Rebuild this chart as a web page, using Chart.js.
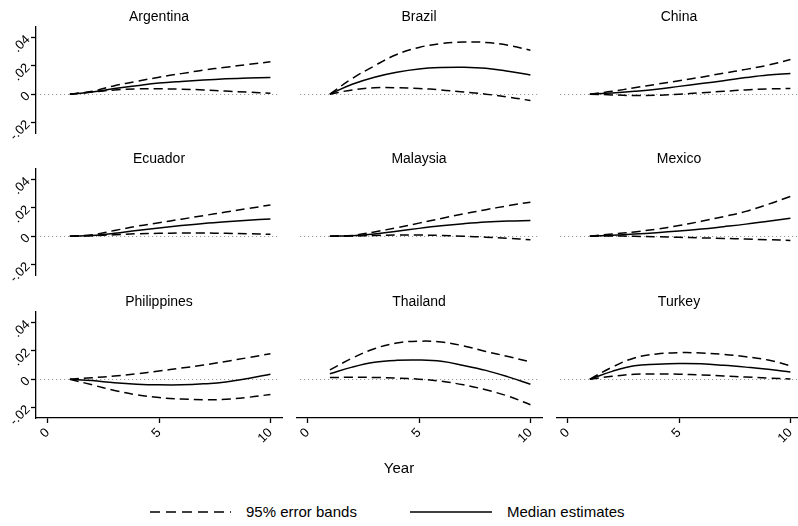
<!DOCTYPE html>
<html>
<head>
<meta charset="utf-8">
<script src="https://cdn.jsdelivr.net/npm/chart.js@4"></script>
<style>
body { margin: 0; background: #fff; width: 798px; height: 526px; overflow: hidden; position: relative;
       font-family: "Liberation Sans", Arial, sans-serif; color: #000; }
canvas { position: absolute; }
#year { position: absolute; left: 0; width: 798px; top: 459px; text-align: center; font-size: 15px; line-height: 18px; }
.leg { position: absolute; top: 503px; font-size: 15px; line-height: 18px; white-space: nowrap; }
#legsvg { position: absolute; left: 0; top: 500px; }
</style>
</head>
<body>
<div id="panels"></div>
<div id="year">Year</div>
<svg id="legsvg" width="798" height="24">
	<line x1="150" y1="12" x2="231" y2="12" stroke="#000" stroke-width="1.4" stroke-dasharray="10 6"></line>
	<line x1="410" y1="12" x2="492" y2="12" stroke="#000" stroke-width="1.4"></line>
</svg>
<span class="leg" style="left:246px">95% error bands</span>
<span class="leg" style="left:507px">Median estimates</span>

<script>
/* horizonte en años */
const years = [1, 2, 3, 4, 5, 6, 7, 8, 9, 10];
const xTicks = [0, 5, 10];
const xTickLabels = ['0', '5', '10'];
const yTicks = [-0.02, 0, 0.02, 0.04];
const yTickLabels = ['-.02', '0', '.02', '.04'];
const zeroValue = 0;

/* mediana, banda superior e inferior por país */
const argentinaMed = [0, 0.0015, 0.004, 0.006, 0.0078, 0.009, 0.010, 0.0108, 0.0114, 0.0118];
const argentinaUp  = [0, 0.002, 0.006, 0.009, 0.012, 0.0145, 0.017, 0.019, 0.021, 0.0228];
const argentinaLo  = [0, 0.0015, 0.003, 0.0037, 0.0038, 0.0035, 0.003, 0.0022, 0.0014, 0.0007];

const brazilMed = [0, 0.007, 0.012, 0.0155, 0.0178, 0.0188, 0.019, 0.0183, 0.0162, 0.0135];
const brazilUp  = [0, 0.011, 0.020, 0.028, 0.033, 0.0357, 0.0368, 0.0365, 0.0345, 0.031];
const brazilLo  = [0, 0.003, 0.0045, 0.0045, 0.004, 0.003, 0.0015, 0, -0.002, -0.0045];

const chinaMed = [0, 0.0008, 0.002, 0.0035, 0.0055, 0.0075, 0.0095, 0.0117, 0.0135, 0.0145];
const chinaUp  = [0, 0.002, 0.0045, 0.007, 0.0095, 0.012, 0.0148, 0.0175, 0.0205, 0.0245];
const chinaLo  = [0, -0.0005, -0.001, -0.0008, 0, 0.001, 0.002, 0.003, 0.0037, 0.004];

const ecuadorMed = [0, 0.0005, 0.002, 0.004, 0.0058, 0.0075, 0.009, 0.0102, 0.0112, 0.0122];
const ecuadorUp  = [0, 0.001, 0.004, 0.007, 0.0095, 0.012, 0.0145, 0.017, 0.0195, 0.022];
const ecuadorLo  = [0, 0.0003, 0.001, 0.0017, 0.002, 0.0022, 0.0022, 0.002, 0.0017, 0.0013];

const malaysiaMed = [0, 0.0003, 0.0015, 0.0035, 0.0055, 0.0073, 0.0088, 0.0100, 0.0107, 0.011];
const malaysiaUp  = [0, 0.0005, 0.003, 0.006, 0.0092, 0.0125, 0.0157, 0.0187, 0.0215, 0.024];
const malaysiaLo  = [0, 0.0001, 0.0005, 0.0008, 0.0008, 0.0005, 0, -0.0007, -0.0015, -0.0025];

const mexicoMed = [0, 0.0007, 0.0015, 0.0025, 0.0037, 0.005, 0.0067, 0.0085, 0.0106, 0.0127];
const mexicoUp  = [0, 0.0015, 0.003, 0.005, 0.0075, 0.0105, 0.0138, 0.0175, 0.0225, 0.028];
const mexicoLo  = [0, 0.0002, -0.0001, -0.0004, -0.0008, -0.0012, -0.0016, -0.002, -0.0025, -0.003];

const philippinesMed = [0, -0.001, -0.0025, -0.0035, -0.004, -0.004, -0.0033, -0.002, 0.0005, 0.0035];
const philippinesUp  = [0, 0.001, 0.0022, 0.0038, 0.0058, 0.0078, 0.0100, 0.0125, 0.0152, 0.018];
const philippinesLo  = [0, -0.004, -0.008, -0.011, -0.013, -0.014, -0.0145, -0.0142, -0.0128, -0.0108];

const thailandMed = [0.0038, 0.0085, 0.0119, 0.0133, 0.0135, 0.0126, 0.0097, 0.0062, 0.0016, -0.0036];
const thailandUp  = [0.0066, 0.0148, 0.0215, 0.0255, 0.0268, 0.0262, 0.0235, 0.0195, 0.016, 0.0122];
const thailandLo  = [0.0012, 0.0013, 0.0012, 0.0008, 0, -0.0015, -0.004, -0.0075, -0.012, -0.018];

const turkeyMed = [0, 0.0055, 0.0095, 0.0105, 0.011, 0.0108, 0.0098, 0.0085, 0.007, 0.005];
const turkeyUp  = [0, 0.0085, 0.015, 0.0178, 0.0187, 0.0185, 0.0175, 0.0158, 0.0135, 0.0095];
const turkeyLo  = [0, 0.002, 0.0035, 0.0037, 0.0035, 0.003, 0.0023, 0.0015, 0.0008, 0.0002];

const countries = ['Argentina', 'Brazil', 'China', 'Ecuador', 'Malaysia', 'Mexico', 'Philippines', 'Thailand', 'Turkey'];
const medians = [argentinaMed, brazilMed, chinaMed, ecuadorMed, malaysiaMed, mexicoMed, philippinesMed, thailandMed, turkeyMed];
const uppers = [argentinaUp, brazilUp, chinaUp, ecuadorUp, malaysiaUp, mexicoUp, philippinesUp, thailandUp, turkeyUp];
const lowers = [argentinaLo, brazilLo, chinaLo, ecuadorLo, malaysiaLo, mexicoLo, philippinesLo, thailandLo, turkeyLo];

/* geometría de la grilla de paneles */
const plotLeft = [36, 296, 556];
const plotTop = [27, 169, 312];
const plotW = 246, plotH = 106, yAxisW = 36, titleH = 26, xAxisH = 30, padB = 14, padR = 4;
const fontFam = '"Liberation Sans", Arial, sans-serif';

/* línea punteada en cero */
const zeroLine = {
	id: 'zeroLine',
	beforeDatasetsDraw(chart) {
		const ctx = chart.ctx;
		const area = chart.chartArea;
		const y = Math.round(chart.scales.y.getPixelForValue(zeroValue)) + 0.5;
		ctx.save();
		ctx.strokeStyle = '#9a9a9a';
		ctx.lineWidth = 1.2;
		ctx.setLineDash([1.2, 2.8]);
		ctx.beginPath();
		ctx.moveTo(area.left + 4, y);
		ctx.lineTo(area.right - 3, y);
		ctx.stroke();
		ctx.restore();
	}
};

function serie(arr) {
	return years.map((t, i) => ({ x: t, y: arr[i] }));
}

const cont = document.getElementById('panels');

for (let i = 0; i < countries.length; i++) {
	const r = Math.floor(i / 3);
	const c = i % 3;
	const showY = c === 0;
	const showX = r === 2;

	const cv = document.createElement('canvas');
	const w = (showY ? yAxisW : 0) + plotW + padR;
	const h = titleH + plotH + (showX ? xAxisH : padB);
	cv.width = w;
	cv.height = h;
	cv.style.left = (plotLeft[c] - (showY ? yAxisW : 0)) + 'px';
	cv.style.top = (plotTop[r] - titleH) + 'px';
	cont.appendChild(cv);

	const banda = { borderColor: '#000', borderWidth: 1.5, borderDash: [9, 5], pointRadius: 0, tension: 0.4, fill: false };

	new Chart(cv, {
		type: 'line',
		data: {
			datasets: [
				Object.assign({ label: '95% error bands', data: serie(uppers[i]) }, banda),
				Object.assign({ label: '95% error bands', data: serie(lowers[i]) }, banda),
				{ label: 'Median estimates', data: serie(medians[i]), borderColor: '#000', borderWidth: 1.5,
				  pointRadius: 0, tension: 0.4, fill: false }
			]
		},
		options: {
			responsive: false,
			animation: false,
			layout: { padding: { top: 0, left: 0, right: padR, bottom: showX ? 0 : padB } },
			scales: {
				x: {
					type: 'linear',
					display: showX,
					min: -0.52,
					max: 10.52,
					afterBuildTicks: s => { s.ticks = xTicks.map(v => ({ value: v })); },
					afterFit: s => { if (showX) s.height = xAxisH; },
					ticks: {
						minRotation: 45, maxRotation: 45, padding: 2, color: '#000',
						font: { family: fontFam, size: 13 },
						callback: v => xTickLabels[xTicks.indexOf(v)]
					},
					grid: { drawOnChartArea: false, drawTicks: true, tickLength: 5, tickColor: '#000', tickWidth: 1.3 },
					border: { display: true, color: '#000', width: 1.3 }
				},
				y: {
					display: showY,
					min: -0.0274,
					max: 0.0474,
					afterBuildTicks: s => { s.ticks = yTicks.map(v => ({ value: v })); },
					afterFit: s => { if (showY) s.width = yAxisW; },
					ticks: {
						minRotation: 45, maxRotation: 45, padding: 3, color: '#000',
						font: { family: fontFam, size: 13 },
						callback: v => yTickLabels[yTicks.indexOf(v)]
					},
					grid: { drawOnChartArea: false, drawTicks: true, tickLength: 5, tickColor: '#000', tickWidth: 1.3 },
					border: { display: true, color: '#000', width: 1.3 }
				}
			},
			plugins: {
				legend: { display: false },
				tooltip: { enabled: false },
				title: {
					display: true,
					text: countries[i],
					fullSize: false,
					color: '#000',
					font: { family: fontFam, size: 14, weight: 'normal' },
					padding: { top: 8, bottom: 1.2 }
				}
			}
		},
		plugins: [zeroLine]
	});
}
</script>
</body>
</html>
